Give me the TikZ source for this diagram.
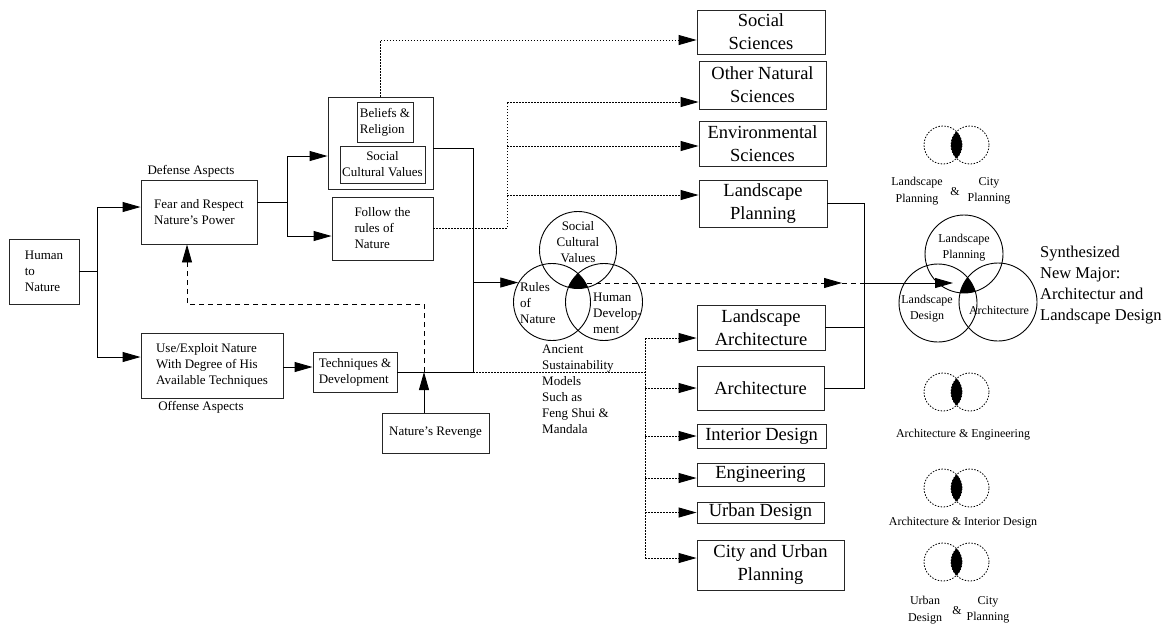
\documentclass[tikz,border=0pt]{standalone}
\usepackage{fontspec}
\setmainfont{Liberation Serif}
\usetikzlibrary{arrows.meta,calc}

\newcommand{\smalltxt}{\fontsize{13}{16}\selectfont}
\newcommand{\bigtxt}{\fontsize{18.5}{23}\selectfont}
\newcommand{\venntxt}{\fontsize{12}{16.5}\selectfont}
\newcommand{\synthtxt}{\fontsize{16.5}{21}\selectfont}

\begin{document}
\begin{tikzpicture}[x=1pt, y=-1pt,
	box/.style={draw=black!85, line width=0.9pt, rectangle, inner sep=0pt, align=left, font=\smalltxt},
	bigbox/.style={draw=black!85, line width=0.9pt, rectangle, inner sep=0pt, align=center, font=\bigtxt},
	ring/.style={draw, line width=0.9pt, circle, inner sep=0pt, minimum size=77pt},
	dotring/.style={draw, line width=0.8pt, dash pattern=on 1.5pt off 1.5pt, circle, inner sep=0pt, minimum size=38pt},
	lbl/.style={inner sep=0pt, align=center, font=\smalltxt},
	wire/.style={line width=0.9pt},
	dotline/.style={line width=0.9pt, dash pattern=on 1.5pt off 1.5pt},
	dashline/.style={line width=0.9pt, dash pattern=on 5pt off 4pt},
	arr/.style={-{Triangle[length=18pt,width=10pt]}}]
	\useasboundingbox (0,0) rectangle (1174,624);

	% Human to Nature
	\node[box, minimum width=70pt, minimum height=65pt] (human) at (44,271.5) {Human\\to\\Nature};

	% Defense side
	\node[box, minimum width=116pt, minimum height=64pt] (fear) at (199,212) {Fear and Respect\\Nature’s Power};
	\node[lbl] (defense) at (191,171) {Defense Aspects};

	% Offense side
	\node[box, minimum width=142pt, minimum height=65pt] (use) at (212,365.5) {Use/Exploit Nature\\With Degree of His\\Available Techniques};
	\node[lbl] (offense) at (201,407) {Offense Aspects};
	\node[box, minimum width=84pt, minimum height=40pt] (tech) at (355,372) {Techniques \&\\Development};
	\node[box, minimum width=107pt, minimum height=40pt] (revenge) at (435.5,433) {Nature’s Revenge};

	% Values and rules
	\node[box, minimum width=105pt, minimum height=92pt] (values) at (380.5,143) {};
	\node[box, minimum width=56pt, minimum height=40pt] (beliefs) at (385,122) {Beliefs \&\\Religion};
	\node[box, align=center, minimum width=85pt, minimum height=37pt] (social) at (382.5,164.5) {Social\\Cultural Values};
	\node[box, minimum width=101pt, minimum height=63pt] (follow) at (382.5,228.5) {Follow the\\rules of\\Nature};

	% Upper disciplines
	\node[bigbox, minimum width=128pt, minimum height=44pt] (socsci) at (761,32) {Social\\Sciences};
	\node[bigbox, minimum width=127pt, minimum height=48pt] (othernat) at (762.5,85) {Other Natural\\Sciences};
	\node[bigbox, minimum width=127pt, minimum height=45pt] (envsci) at (762.5,143.5) {Environmental\\Sciences};
	\node[bigbox, minimum width=128pt, minimum height=47pt] (lplan) at (763,203.5) {Landscape\\Planning};

	% Lower disciplines
	\node[bigbox, minimum width=128pt, minimum height=45pt] (larch) at (761,327.5) {Landscape\\Architecture};
	\node[bigbox, minimum width=127pt, minimum height=44pt] (arch) at (760.5,388) {Architecture};
	\node[bigbox, minimum width=129pt, minimum height=24pt] (interior) at (761.5,436) {Interior Design};
	\node[bigbox, minimum width=127pt, minimum height=23pt] (eng) at (760.5,474.5) {Engineering};
	\node[bigbox, minimum width=127pt, minimum height=21pt] (urban) at (760.5,512.5) {Urban Design};
	\node[bigbox, minimum width=147pt, minimum height=50pt] (city) at (770.5,565) {City and Urban\\Planning};

	% Ancient model venn
	\node[ring] (svc) at (578,250) {};
	\node[ring] (rules) at (552,302) {};
	\node[ring] (hdev) at (604,302) {};
	\begin{scope}
		\clip (svc.center) circle[radius=38.5pt];
		\clip (rules.center) circle[radius=38.5pt];
		\fill (hdev.center) circle[radius=38.5pt];
	\end{scope}
	\node[lbl] (svctext) at (578,242) {Social\\Cultural\\Values};
	\node[lbl, align=left, anchor=west] (rulestext) at (520,303) {Rules\\of\\Nature};
	\node[lbl, align=left, anchor=west] (hdevtext) at (593,313) {Human\\Develop-\\ment};
	\node[lbl, align=left, anchor=west] (ancient) at (542,389) {Ancient\\Sustainability\\Models\\Such as\\Feng Shui \&\\Mandala};

	% Synthesized venn
	\node[ring, minimum size=78pt] (lpc) at (964,254) {};
	\node[ring, minimum size=78pt] (ldc) at (938,303) {};
	\node[ring, minimum size=78pt] (arc) at (998,302) {};
	\begin{scope}
		\clip (lpc.center) circle[radius=39pt];
		\clip (ldc.center) circle[radius=39pt];
		\fill (arc.center) circle[radius=39pt];
	\end{scope}
	\node[lbl, font=\venntxt] (lptext) at (964,247.5) {Landscape\\Planning};
	\node[lbl, font=\venntxt] (ldtext) at (927,308.5) {Landscape\\Design};
	\node[lbl, font=\venntxt] (arctext) at (999,310) {Architecture};
	\node[lbl, font=\synthtxt, align=left, anchor=west] (synth) at (1040,285.5) {Synthesized\\New Major:\\Architectur and\\Landscape Design};

	% Pair venns
	\foreach \v/\y in {1/145, 2/392, 3/488, 4/562} {
		\node[dotring] (pair\v a) at (943,\y) {};
		\node[dotring] (pair\v b) at (970,\y) {};
		\begin{scope}
			\clip (pair\v a.center) circle[radius=19pt];
			\fill (pair\v b.center) circle[radius=19pt];
		\end{scope}
	}
	\node[lbl, font=\venntxt] (pair1l) at (917,191) {Landscape\\Planning};
	\node[lbl, font=\venntxt] (pair1m) at (955,192) {\&};
	\node[lbl, font=\venntxt] (pair1r) at (989,191) {City\\Planning};
	\node[lbl, font=\venntxt] (pair2l) at (963,435) {Architecture \& Engineering};
	\node[lbl, font=\venntxt] (pair3l) at (963,523) {Architecture \& Interior Design};
	\node[lbl, font=\venntxt] (pair4l) at (925,610) {Urban\\Design};
	\node[lbl, font=\venntxt] (pair4m) at (957,611) {\&};
	\node[lbl, font=\venntxt] (pair4r) at (988,610) {City\\Planning};

	% entry points
	\coordinate (fear-in) at ($(fear.west)+(0,-5)$);
	\coordinate (fear-out) at ($(fear.east)+(0,-10)$);
	\coordinate (fear-up) at ($(fear.south)+(-12,0)$);
	\coordinate (use-in) at ($(use.west)+(0,-8.5)$);
	\coordinate (tech-in) at ($(tech.west)+(0,-5)$);
	\coordinate (values-in) at ($(values.west)+(0,13)$);
	\coordinate (values-out) at ($(values.east)+(0,5)$);
	\coordinate (follow-in) at ($(follow.west)+(0,7.5)$);
	\coordinate (socsci-in) at ($(socsci.west)+(0,8)$);
	\coordinate (othernat-in) at ($(othernat.west)+(0,17)$);
	\coordinate (envsci-in) at ($(envsci.west)+(0,2.5)$);
	\coordinate (lplan-in) at ($(lplan.west)+(0,-8.5)$);
	\foreach \n/\s in {larch/10.5, arch/0, interior/0, eng/3.5, urban/0, city/-7}
		\coordinate (\n-in) at ($(\n.west)+(0,\s)$);

	% buses
	\coordinate (hsplit) at (97,0);
	\coordinate (fsplit) at (287,0);
	\coordinate (bus) at (473,0);
	\coordinate (topbus) at (507,0);
	\coordinate (lowbus) at (645,0);
	\coordinate (rbus) at (864,0);
	\coordinate (meet) at (424,372);
	\coordinate (lcore) at (587,283);
	\coordinate (dtip) at (842,283);
	\coordinate (rcore) at (953,283);

	% Human to Nature links
	\draw[wire] (human.east) -- (human.east -| hsplit);
	\draw[wire, arr] (human.east -| hsplit) |- (fear-in);
	\draw[wire, arr] (human.east -| hsplit) |- (use-in);

	% Fear links
	\draw[wire] (fear-out) -- (fear-out -| fsplit);
	\draw[wire, arr] (fear-out -| fsplit) |- (values-in);
	\draw[wire, arr] (fear-out -| fsplit) |- (follow-in);

	% Use links
	\draw[wire, arr] (use.east |- tech-in) -- (tech-in);
	\draw[wire] (tech.east) -- (tech.east -| bus);
	\draw[wire] (values-out) -| (tech.east -| bus);
	\draw[wire, arr] (bus |- rules.150) -- (rules.150);

	% Nature's revenge
	\draw[wire, arr] (revenge.north -| meet) -- (meet);
	\draw[dashline, arr] (meet) -- ++(0,-68) -| (fear-up);

	% dotted to upper disciplines
	\draw[dotline, arr] (values.north) |- (socsci-in);
	\draw[dotline] (follow.east) -- (follow.east -| topbus) -- (topbus |- othernat-in);
	\foreach \n in {othernat, envsci, lplan}
		\draw[dotline, arr] (topbus |- \n-in) -- (\n-in);

	% dotted to lower disciplines
	\draw[dotline] (tech.east -| bus) -- (tech.east -| lowbus);
	\draw[dotline] (lowbus |- larch-in) -- (lowbus |- city-in);
	\foreach \n in {larch, arch, interior, eng, urban, city}
		\draw[dotline, arr] (lowbus |- \n-in) -- (\n-in);

	% collecting bus
	\draw[wire] (lplan.east) -| (rbus |- arch.east) -- (arch.east);
	\draw[wire] (larch.east) -- (larch.east -| rbus);

	% synthesis
	\draw[dashline, arr] (lcore) -- (dtip);
	\draw[dashline] (dtip) -- (rbus |- dtip);
	\draw[wire, arr] (rbus |- dtip) -- (rcore);
\end{tikzpicture}
\end{document}
